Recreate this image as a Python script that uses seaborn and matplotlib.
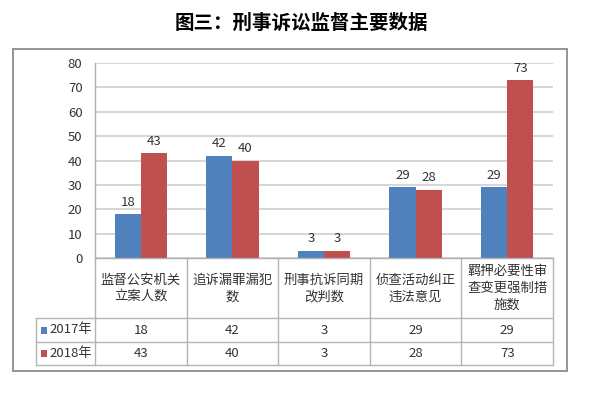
import matplotlib
matplotlib.use("Agg")
import matplotlib.pyplot as plt
import seaborn as sns
import pandas as pd
from matplotlib.patches import Rectangle

categories = ["监督公安机关立案人数", "追诉漏罪漏犯数", "刑事抗诉同期改判数",
              "侦查活动纠正违法意见", "羁押必要性审查变更强制措施数"]
series_names = ["2017年", "2018年"]
values_2017 = [18, 42, 3, 29, 29]
values_2018 = [43, 40, 3, 28, 73]
y_ticks = [0, 10, 20, 30, 40, 50, 60, 70, 80]
title = "图三：刑事诉讼监督主要数据"
colors = ["#4F81BD", "#C0504D"]

sns.set_theme(style="white")
plt.rcParams["font.family"] = ["Noto Sans CJK SC", "DejaVu Sans"]

W, H = 603, 394
fig = plt.figure(figsize=(W / 100, H / 100), dpi=100)

def fx(px):
    return px / W

def fy(py):
    return 1 - py / H

# pixel layout
L, R, T, B = 95, 553, 63, 258
ax = fig.add_axes([fx(L), fy(B), fx(R) - fx(L), fy(T) - fy(B)])

df = pd.DataFrame({
    "cat": categories * 2,
    "year": [series_names[0]] * len(categories) + [series_names[1]] * len(categories),
    "val": values_2017 + values_2018,
})
sns.barplot(data=df, x="cat", y="val", hue="year", palette=colors, width=0.572,
            saturation=1, ax=ax, legend=False, edgecolor="none")
ax.set_xlim(-0.5, len(categories) - 0.5)
ax.set_ylim(0, 80)
ax.set_yticks(y_ticks)
ax.set_xticks([])
ax.set_xlabel("")
ax.set_ylabel("")
ax.yaxis.grid(True, color="#d0d0d0", linewidth=1.2)
ax.set_axisbelow(True)
for s in ["top", "right"]:
    ax.spines[s].set_visible(False)
for s in ["left", "bottom"]:
    ax.spines[s].set_color("#b0b0b0")
    ax.spines[s].set_linewidth(1.0)
ax.tick_params(axis="y", length=0, pad=9, labelsize=9.5, labelcolor="#333333")
for c in ax.containers:
    ax.bar_label(c, padding=4, fontsize=9.5, color="#333333")

# data table
TB = 365
tab = fig.add_axes([fx(L), fy(TB), fx(R) - fx(L), fy(B) - fy(TB)])
tab.set_xlim(-0.5, len(categories) - 0.5)
tab.set_ylim(TB, B)
tab.axis("off")
unit = (R - L) / len(categories)
xleft = -0.5 - (L - 36) / unit
lc = "#b4b4b4"
r1, r2 = 318, 342
for yy in [r1, r2, TB]:
    tab.plot([xleft, len(categories) - 0.5], [yy, yy], color=lc, lw=1.0, clip_on=False)
for i in range(len(categories) + 1):
    tab.plot([i - 0.5, i - 0.5], [B, TB], color=lc, lw=1.0, clip_on=False)
tab.plot([xleft, xleft], [r1, TB], color=lc, lw=1.0, clip_on=False)

for i, cat in enumerate(categories):
    wrapped = "\n".join(cat[k:k + 6] for k in range(0, len(cat), 6))
    tab.text(i, (B + r1) / 2, wrapped, ha="center", va="center", fontsize=9.6,
             color="#333333", linespacing=1.25, clip_on=False)
rows = [(values_2017, (r1 + r2) / 2), (values_2018, (r2 + TB) / 2)]
for k, (vals, yc) in enumerate(rows):
    for i, v in enumerate(vals):
        tab.text(i, yc, str(v), ha="center", va="center", fontsize=9.5, color="#333333")
    # legend key
    sq = 6.5 / unit
    tab.add_patch(Rectangle((xleft + 5 / unit, yc - 3.5), sq, 7, facecolor=colors[k],
                            edgecolor="none", clip_on=False))
    tab.text(xleft + 13.5 / unit, yc, series_names[k], ha="left", va="center",
             fontsize=9.5, color="#333333", clip_on=False)

# outer border
fig.patches.append(Rectangle((fx(13), fy(371)), fx(567) - fx(13), fy(49) - fy(371),
                             transform=fig.transFigure, fill=False, edgecolor="#8c8c8c",
                             linewidth=1.3))

fig.text(fx(301), fy(23), title, ha="center", va="center", fontsize=14,
         fontweight="bold", color="black")

fig.savefig("out.png", dpi=100)
